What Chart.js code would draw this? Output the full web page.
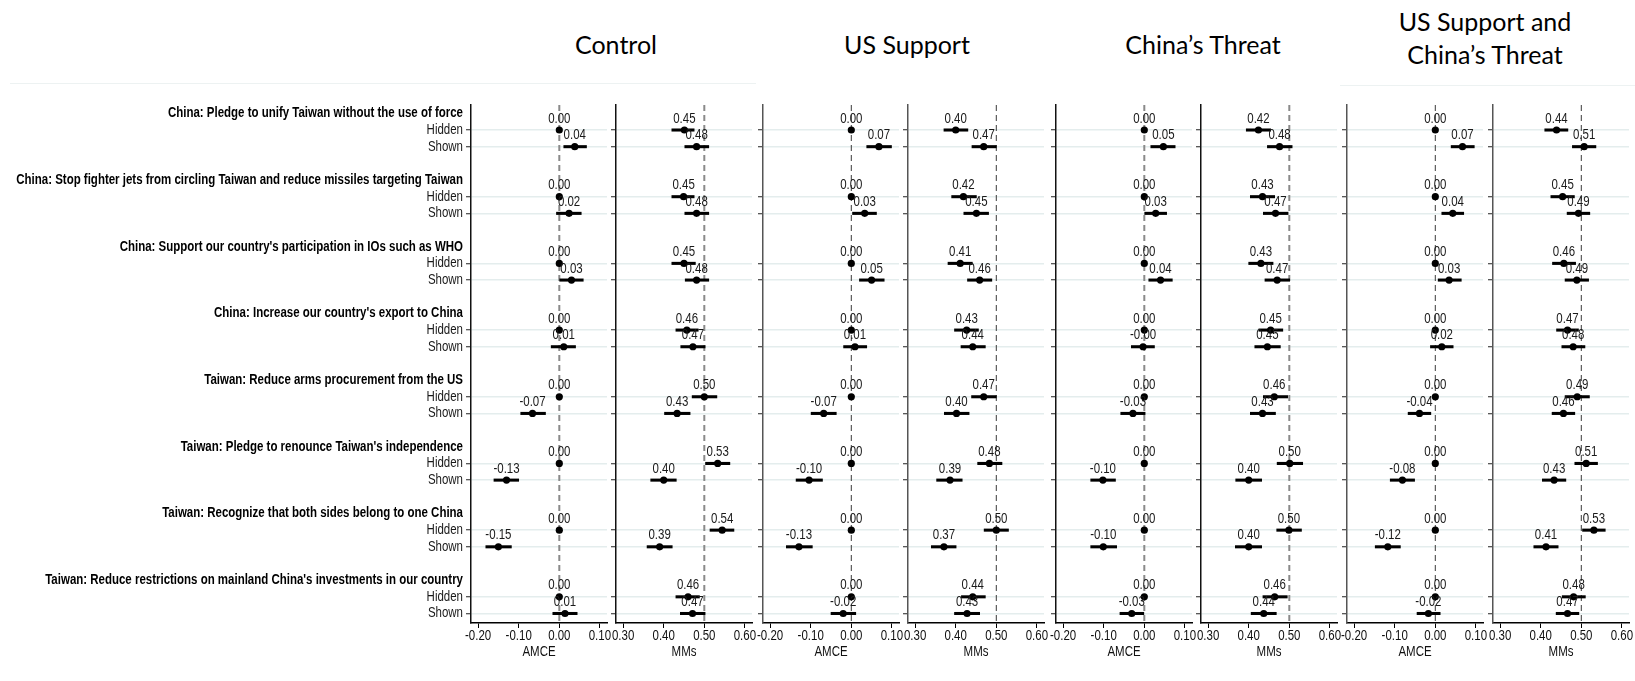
<!DOCTYPE html>
<html>
<head>
<meta charset="utf-8">
<script src="https://cdn.jsdelivr.net/npm/chart.js@4.4.1/dist/chart.umd.min.js"></script>
<style>
  html, body { margin: 0; padding: 0; background: #fff; }
  #page { position: relative; width: 1635px; height: 681px; overflow: hidden; background: #fff; }
  #page canvas { position: absolute; }
  .cond { position: absolute; font-family: Lato, 'Open Sans', sans-serif; font-size: 25px; color: #000;
          line-height: 33px; white-space: nowrap; text-align: center; transform: translateX(-50%); }
  .rule { position: absolute; height: 1px; background: #edf2f2; }
</style>
</head>
<body>
<div id="page">
  <div class="rule" style="left:10px;top:83px;width:746px;"></div>
  <div class="rule" style="left:1340px;top:85px;width:295px;"></div>
  <div class="cond" style="left:616px;top:28px;">Control</div>
  <div class="cond" style="left:907px;top:28px;">US Support</div>
  <div class="cond" style="left:1203px;top:28px;">China’s Threat</div>
  <div class="cond" style="left:1485px;top:5px;">US Support and<br>China’s Threat</div>
</div>
<script>
// Axis and value text is set in a condensed sans: Liberation Sans squeezed horizontally
const SANS = "'Liberation Sans', Arial, sans-serif";
const SQUEEZE = 0.82;
const TEXT_SIZE = 14;

// Attribute headers and levels, top to bottom
const attributes = [
  "China: Pledge to unify Taiwan without the use of force",
  "China: Stop fighter jets from circling Taiwan and reduce missiles targeting Taiwan",
  "China: Support our country's participation in IOs such as WHO",
  "China: Increase our country's export to China",
  "Taiwan: Reduce arms procurement from the US",
  "Taiwan: Pledge to renounce Taiwan's independence",
  "Taiwan: Recognize that both sides belong to one China",
  "Taiwan: Reduce restrictions on mainland China's investments in our country"
];
const levels = ["Hidden", "Shown"];
const conditions = ["Control", "US Support", "China’s Threat", "US Support and China’s Threat"];

const amceTicks = [-0.2, -0.1, 0.0, 0.1];
const mmTicks = [0.3, 0.4, 0.5, 0.6];

// AMCE of "Shown" against the "Hidden" baseline (baseline = 0)
const amceControl   = [0.038, 0.024, 0.030, 0.011, -0.066, -0.130, -0.150, 0.014];
const amceControlCI = [[0.011,0.067],[-0.007,0.054],[0.001,0.059],[-0.020,0.040],[-0.095,-0.034],[-0.161,-0.100],[-0.181,-0.118],[-0.016,0.044]];
const amceUS        = [0.068, 0.033, 0.050, 0.009, -0.068, -0.104, -0.129, -0.020];
const amceUSCI      = [[0.038,0.099],[0.003,0.062],[0.020,0.081],[-0.019,0.038],[-0.099,-0.037],[-0.136,-0.071],[-0.160,-0.096],[-0.050,0.011]];
const amceChina     = [0.047, 0.028, 0.040, -0.003, -0.028, -0.102, -0.101, -0.031];
const amceChinaCI   = [[0.016,0.076],[0.001,0.055],[0.011,0.069],[-0.032,0.025],[-0.058,0.002],[-0.132,-0.071],[-0.132,-0.068],[-0.060,0.000]];
const amceBoth      = [0.067, 0.043, 0.034, 0.016, -0.039, -0.081, -0.117, -0.017];
const amceBothCI    = [[0.039,0.096],[0.016,0.070],[0.007,0.064],[-0.012,0.044],[-0.067,-0.011],[-0.111,-0.051],[-0.148,-0.086],[-0.045,0.012]];

// Marginal means, Hidden and Shown
const mmControlHidden   = [0.451, 0.449, 0.450, 0.457, 0.500, 0.533, 0.544, 0.460];
const mmControlHiddenCI = [[0.420,0.475],[0.420,0.475],[0.420,0.478],[0.430,0.485],[0.470,0.531],[0.503,0.563],[0.514,0.573],[0.430,0.488]];
const mmControlShown    = [0.481, 0.481, 0.481, 0.472, 0.433, 0.400, 0.390, 0.471];
const mmControlShownCI  = [[0.452,0.511],[0.452,0.511],[0.453,0.511],[0.442,0.502],[0.402,0.465],[0.368,0.431],[0.359,0.421],[0.441,0.502]];
const mmUSHidden        = [0.400, 0.419, 0.411, 0.427, 0.469, 0.483, 0.500, 0.442];
const mmUSHiddenCI      = [[0.371,0.430],[0.390,0.451],[0.381,0.441],[0.397,0.456],[0.439,0.500],[0.454,0.514],[0.470,0.530],[0.414,0.473]];
const mmUSShown         = [0.469, 0.451, 0.459, 0.442, 0.402, 0.386, 0.371, 0.428];
const mmUSShownCI       = [[0.440,0.500],[0.420,0.481],[0.429,0.489],[0.413,0.473],[0.372,0.433],[0.353,0.416],[0.340,0.401],[0.397,0.459]];
const mmChinaHidden     = [0.424, 0.434, 0.430, 0.454, 0.463, 0.501, 0.499, 0.464];
const mmChinaHiddenCI   = [[0.394,0.454],[0.404,0.464],[0.400,0.460],[0.425,0.484],[0.436,0.496],[0.470,0.533],[0.469,0.530],[0.435,0.495]];
const mmChinaShown      = [0.476, 0.466, 0.470, 0.446, 0.434, 0.400, 0.400, 0.437];
const mmChinaShownCI    = [[0.446,0.507],[0.436,0.497],[0.440,0.501],[0.415,0.478],[0.404,0.466],[0.368,0.432],[0.367,0.432],[0.406,0.468]];
const mmBothHidden      = [0.439, 0.454, 0.457, 0.466, 0.490, 0.512, 0.531, 0.481];
const mmBothHiddenCI    = [[0.410,0.467],[0.425,0.483],[0.429,0.486],[0.439,0.493],[0.460,0.520],[0.484,0.540],[0.503,0.559],[0.453,0.510]];
const mmBothShown       = [0.507, 0.493, 0.489, 0.480, 0.456, 0.433, 0.413, 0.466];
const mmBothShownCI     = [[0.478,0.536],[0.465,0.521],[0.460,0.518],[0.452,0.509],[0.428,0.484],[0.404,0.462],[0.383,0.443],[0.438,0.494]];

// Row layout: each attribute takes a header row, Hidden, Shown and a spacer
const headerRow = g => 4 * g;
const hiddenRow = g => 4 * g + 1;
const shownRow  = g => 4 * g + 2;
const rowTicks = [];
attributes.forEach((a, g) => rowTicks.push(headerRow(g), hiddenRow(g), shownRow(g)));
function rowLabel(v) {
  const g = Math.floor(v / 4), k = v % 4;
  return k === 0 ? attributes[g] : levels[k - 1];
}

const AREA_W = 136, TOP = 90, CANVAS_H = 578, X_AXIS_H = 45, PAD_TOP = 15, PAD_RIGHT = 14;
const SPAN = 0.2175;           // distance from the left edge to the reference value, in data units
const PX_PER_UNIT = 406;
const zeroBaseline = attributes.map(() => 0);

const panels = [
  { cond: 0, kind: 'AMCE', left: 471,  shown: amceControl, shownCI: amceControlCI },
  { cond: 0, kind: 'MMs',  left: 616,  hidden: mmControlHidden, hiddenCI: mmControlHiddenCI, shown: mmControlShown, shownCI: mmControlShownCI },
  { cond: 1, kind: 'AMCE', left: 763,  shown: amceUS, shownCI: amceUSCI },
  { cond: 1, kind: 'MMs',  left: 908,  hidden: mmUSHidden, hiddenCI: mmUSHiddenCI, shown: mmUSShown, shownCI: mmUSShownCI },
  { cond: 2, kind: 'AMCE', left: 1056, shown: amceChina, shownCI: amceChinaCI },
  { cond: 2, kind: 'MMs',  left: 1201, hidden: mmChinaHidden, hiddenCI: mmChinaHiddenCI, shown: mmChinaShown, shownCI: mmChinaShownCI },
  { cond: 3, kind: 'AMCE', left: 1347, shown: amceBoth, shownCI: amceBothCI },
  { cond: 3, kind: 'MMs',  left: 1493, hidden: mmBothHidden, hiddenCI: mmBothHiddenCI, shown: mmBothShown, shownCI: mmBothShownCI }
];

function drawNarrow(ctx, text, x, y, align, weight, color, baseline) {
  ctx.save();
  ctx.font = (weight || 'normal') + ' ' + TEXT_SIZE + 'px ' + SANS;
  ctx.fillStyle = color;
  ctx.textAlign = align;
  ctx.textBaseline = baseline || 'middle';
  ctx.translate(x, y);
  ctx.scale(SQUEEZE, 1);
  ctx.fillText(text, 0, 0);
  ctx.restore();
}

// Condensed text: axis tick labels, axis title, row labels and value labels
const narrowText = {
  id: 'narrowText',
  afterDatasetsDraw(chart, args, opts) {
    const ctx = chart.ctx;
    chart.data.datasets.forEach((ds, i) => {
      if (!ds.valueLabels) return;
      const meta = chart.getDatasetMeta(i);
      meta.data.forEach((pt, j) => {
        drawNarrow(ctx, ds.data[j].x.toFixed(2), pt.x, pt.y - 7.5, 'center', 'normal', '#1a1a1a', 'alphabetic');
      });
    });
  },
  afterDraw(chart, args, opts) {
    const ctx = chart.ctx;
    const xs = chart.scales.x, ys = chart.scales.y;
    xs.ticks.forEach(t => {
      drawNarrow(ctx, t.value.toFixed(2), xs.getPixelForValue(t.value), xs.top + 13, 'center', 'normal', '#111');
    });
    drawNarrow(ctx, opts.title, (xs.left + xs.right) / 2, xs.top + 29, 'center', 'normal', '#111');
    if (opts.rowLabels) {
      ys.ticks.forEach(t => {
        const header = t.value % 4 === 0;
        drawNarrow(ctx, rowLabel(t.value), ys.right - 8, ys.getPixelForValue(t.value),
                   'right', header ? 'bold' : 'normal', header ? '#000' : '#1a1a1a');
      });
    }
  }
};

const page = document.getElementById('page');

panels.forEach((p, idx) => {
  const first = idx === 0;
  const axisW = first ? p.left : 10;
  const canvas = document.createElement('canvas');
  const w = axisW + AREA_W + PAD_RIGHT;
  canvas.width = w; canvas.height = CANVAS_H;
  canvas.style.left = (p.left - axisW) + 'px';
  canvas.style.top = TOP + 'px';
  canvas.style.width = w + 'px';
  canvas.style.height = CANVAS_H + 'px';
  page.appendChild(canvas);

  const isAmce = p.kind === 'AMCE';
  const ref = isAmce ? 0 : 0.5;
  const xMin = ref - SPAN, xMax = xMin + AREA_W / PX_PER_UNIT;
  const ticks = isAmce ? amceTicks : mmTicks;
  const dark = (p.cond === 0 || p.cond === 2);

  const hiddenVals = isAmce ? zeroBaseline : p.hidden;
  const points = [];
  const bars = [];
  attributes.forEach((a, g) => {
    points.push({ x: hiddenVals[g], y: hiddenRow(g) });
    points.push({ x: p.shown[g], y: shownRow(g) });
    if (!isAmce) bars.push({ x: p.hiddenCI[g], y: hiddenRow(g) });
    bars.push({ x: p.shownCI[g], y: shownRow(g) });
  });

  const isHeader = c => c.tick && c.tick.value % 4 === 0;

  new Chart(canvas, {
    type: 'scatter',
    data: {
      datasets: [
        { type: 'scatter', data: points, pointRadius: 3.6, pointHoverRadius: 3.6,
          backgroundColor: '#000', borderWidth: 0, order: 1, valueLabels: true },
        { type: 'bar', indexAxis: 'y', data: bars, backgroundColor: '#000', borderWidth: 0,
          barThickness: 2.4, grouped: false, order: 2 },
        { type: 'line', data: [{ x: ref, y: -0.5 }, { x: ref, y: 30.57 }],
          borderColor: dark ? '#8a8a8a' : '#3a3a3a', borderWidth: dark ? 2 : 1,
          borderDash: [6, 4], pointRadius: 0, fill: false, order: 3 }
      ]
    },
    options: {
      responsive: false,
      devicePixelRatio: 1,
      animation: false,
      events: [],
      layout: { padding: { top: PAD_TOP, right: PAD_RIGHT, bottom: 0, left: 0 } },
      plugins: {
        legend: { display: false },
        tooltip: { enabled: false },
        narrowText: { title: p.kind, rowLabels: first }
      },
      scales: {
        x: {
          type: 'linear', position: 'bottom', min: xMin, max: xMax,
          afterBuildTicks: s => { s.ticks = ticks.map(v => ({ value: v })); },
          afterFit: s => { s.height = X_AXIS_H; },
          grid: { drawOnChartArea: false, drawTicks: true, tickLength: 5, color: '#000', tickColor: '#000', tickWidth: 1 },
          border: { display: true, color: '#000', width: 1.5 },
          ticks: { padding: 0, color: 'rgba(0,0,0,0)', maxRotation: 0, autoSkip: false,
                   font: { family: SANS, size: 12 }, callback: v => Number(v).toFixed(2) },
          title: { display: false, text: p.kind }
        },
        y: {
          type: 'linear', position: 'left', reverse: true, min: -0.5, max: 30.57, offset: false,
          afterBuildTicks: s => { s.ticks = rowTicks.map(v => ({ value: v })); },
          afterFit: s => { s.width = axisW; },
          grid: {
            offset: false, drawOnChartArea: true, drawTicks: true, tickLength: 5,
            lineWidth: 1.5, tickWidth: 1,
            color: c => isHeader(c) ? 'rgba(0,0,0,0)' : '#e4eded',
            tickColor: c => isHeader(c) ? 'rgba(0,0,0,0)' : '#222'
          },
          border: { display: true, color: dark ? '#111' : '#555', width: 1.5 },
          ticks: {
            autoSkip: false, padding: 2, color: 'rgba(0,0,0,0)',
            font: { family: SANS, size: 10 },
            callback: v => rowLabel(v)
          }
        }
      }
    },
    plugins: [narrowText]
  });
});
</script>
</body>
</html>
